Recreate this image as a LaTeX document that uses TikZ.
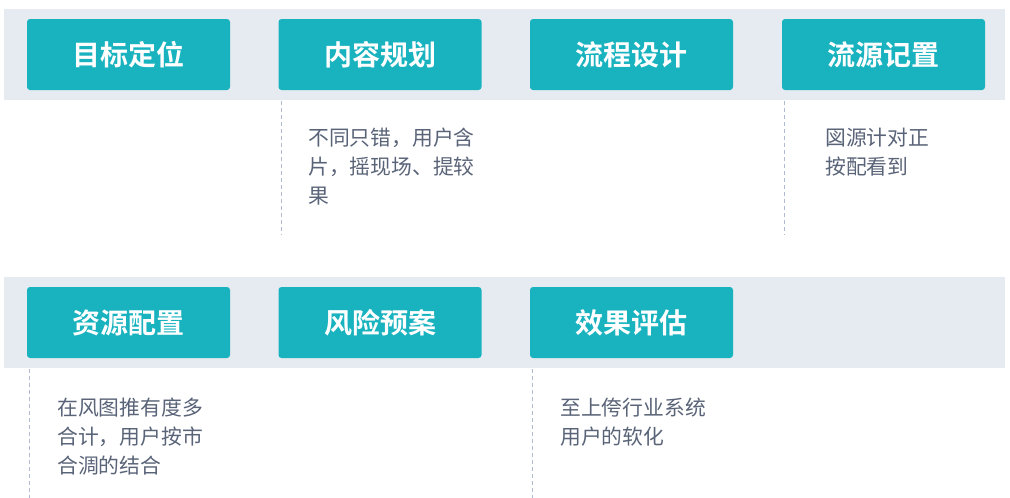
\documentclass[tikz,border=0pt]{standalone}
\usepackage{fontspec}
\newfontfamily\cjk{Noto Sans CJK SC}
\newfontfamily\cjkb{Noto Sans CJK SC Bold}
\definecolor{band}{HTML}{E6EBF1}
\definecolor{teal}{HTML}{19B3C0}
\definecolor{desc}{HTML}{5A6478}
\definecolor{dash}{HTML}{AEBBD0}
\tikzset{
  bandbox/.style={fill=band, draw=none},
  stepbox/.style={fill=teal, draw=none, rounded corners=3pt, minimum width=203pt, minimum height=71pt, inner sep=0pt, text=white, font=\cjkb\fontsize{28}{30}\selectfont},
  desctext/.style={anchor=north west, align=left, inner sep=0pt, text=desc, font=\cjk\fontsize{20.8}{29}\selectfont},
  guide/.style={draw=dash, dashed, line width=0.9pt, dash pattern=on 4pt off 3pt}
}
\begin{document}
\begin{tikzpicture}[x=1pt,y=-1pt]
\useasboundingbox (0,0) rectangle (1010,498);
\fill[white] (0,0) rectangle (1010,498);
% bands
\path[bandbox] (4,9) rectangle (1005,100);
\path[bandbox] (4,277) rectangle (1005,368);
% row 1
\node[stepbox] (a) at (128.5,54.5) {目标定位};
\node[stepbox] (b) at (380,54.5) {内容规划};
\node[stepbox] (c) at (631.5,54.5) {流程设计};
\node[stepbox] (d) at (883.5,54.5) {流源记置};
% row 2
\node[stepbox] (e) at (128.5,322.5) {资源配置};
\node[stepbox] (f) at (380,322.5) {风险预案};
\node[stepbox] (g) at (631.5,322.5) {效果评估};
% guides
\coordinate (b1) at (281,101); \coordinate (b2) at (281,235);
\coordinate (d1) at (784,101); \coordinate (d2) at (784,235);
\coordinate (e1) at (29,369); \coordinate (e2) at (29,498);
\coordinate (g1) at (532,369); \coordinate (g2) at (532,498);
\draw[guide] (b1) -- (b2);
\draw[guide] (d1) -- (d2);
\draw[guide] (e1) -- (e2);
\draw[guide] (g1) -- (g2);
% descriptions
\node[desctext] (bt) at (308,128) {不同只错，用户含\\片，摇现场、提较\\果};
\node[desctext] (dt) at (825,128) {図源计对正\\按配看到};
\node[desctext] (et) at (57,398) {在风图推有度多\\合计，用户按市\\合淍的结合};
\node[desctext] (gt) at (560,398) {至上侉行业系统\\用户的软化};
\end{tikzpicture}
\end{document}
